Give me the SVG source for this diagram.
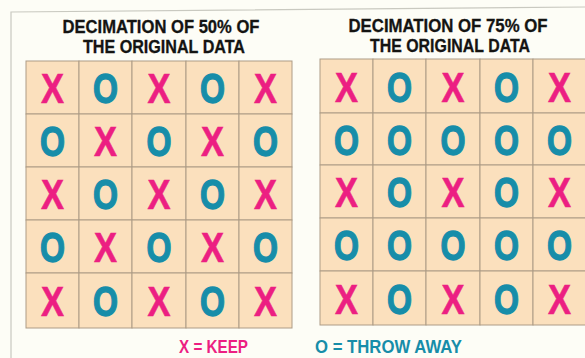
<svg xmlns="http://www.w3.org/2000/svg" width="585" height="358" viewBox="0 0 585 358">
<style>
.cell{fill:#fbe0bd;stroke:#ad9c86;stroke-width:1}
.x{font-family:"Liberation Sans Narrow","Liberation Sans",Arial,sans-serif;font-weight:bold;font-size:43px;fill:#ec1f82;stroke:#ec1f82;stroke-width:0.6;text-anchor:middle}
.o{font-family:"Liberation Sans Narrow","Liberation Sans",Arial,sans-serif;font-weight:bold;font-size:43px;fill:#178da9;stroke:#178da9;stroke-width:1.4;text-anchor:middle}
.title{font-family:"Liberation Sans Narrow","Liberation Sans",Arial,sans-serif;font-weight:bold;font-size:18px;fill:#141412;stroke:#141412;stroke-width:0.3;text-anchor:middle}
.leg{font-family:"Liberation Sans Narrow","Liberation Sans",Arial,sans-serif;font-weight:bold;font-size:19px;text-anchor:middle}
</style>
<rect width="585" height="358" fill="#fdfdf6"/>
<path d="M11,358 L11,12 L585,7" fill="none" stroke="#c9c9c0" stroke-width="1.2"/>
<g id="title-left">
<text class="title" x="161" y="33" textLength="197" lengthAdjust="spacingAndGlyphs">DECIMATION OF 50% OF</text>
<text class="title" x="164" y="53" textLength="162" lengthAdjust="spacingAndGlyphs">THE ORIGINAL DATA</text>
</g>
<g id="title-right">
<text class="title" x="448" y="32" textLength="199" lengthAdjust="spacingAndGlyphs">DECIMATION OF 75% OF</text>
<text class="title" x="450" y="52" textLength="160" lengthAdjust="spacingAndGlyphs">THE ORIGINAL DATA</text>
</g>
<g id="grid-left">
<rect class="cell" x="26" y="61" width="53" height="53"/><rect class="cell" x="79" y="61" width="53" height="53"/><rect class="cell" x="132" y="61" width="54" height="53"/><rect class="cell" x="186" y="61" width="53" height="53"/><rect class="cell" x="239" y="61" width="53" height="53"/>
<rect class="cell" x="26" y="114" width="53" height="53"/><rect class="cell" x="79" y="114" width="53" height="53"/><rect class="cell" x="132" y="114" width="54" height="53"/><rect class="cell" x="186" y="114" width="53" height="53"/><rect class="cell" x="239" y="114" width="53" height="53"/>
<rect class="cell" x="26" y="167" width="53" height="53"/><rect class="cell" x="79" y="167" width="53" height="53"/><rect class="cell" x="132" y="167" width="54" height="53"/><rect class="cell" x="186" y="167" width="53" height="53"/><rect class="cell" x="239" y="167" width="53" height="53"/>
<rect class="cell" x="26" y="220" width="53" height="53"/><rect class="cell" x="79" y="220" width="53" height="53"/><rect class="cell" x="132" y="220" width="54" height="53"/><rect class="cell" x="186" y="220" width="53" height="53"/><rect class="cell" x="239" y="220" width="53" height="53"/>
<rect class="cell" x="26" y="273" width="53" height="55"/><rect class="cell" x="79" y="273" width="53" height="55"/><rect class="cell" x="132" y="273" width="54" height="55"/><rect class="cell" x="186" y="273" width="53" height="55"/><rect class="cell" x="239" y="273" width="53" height="55"/>
<text class="x" x="52.5" y="103" textLength="23" lengthAdjust="spacingAndGlyphs">X</text><text class="o" x="105.5" y="103" textLength="25" lengthAdjust="spacingAndGlyphs">O</text><text class="x" x="159" y="103" textLength="23" lengthAdjust="spacingAndGlyphs">X</text><text class="o" x="212.5" y="103" textLength="25" lengthAdjust="spacingAndGlyphs">O</text><text class="x" x="265.5" y="103" textLength="23" lengthAdjust="spacingAndGlyphs">X</text>
<text class="o" x="52.5" y="156" textLength="25" lengthAdjust="spacingAndGlyphs">O</text><text class="x" x="105.5" y="156" textLength="23" lengthAdjust="spacingAndGlyphs">X</text><text class="o" x="159" y="156" textLength="25" lengthAdjust="spacingAndGlyphs">O</text><text class="x" x="212.5" y="156" textLength="23" lengthAdjust="spacingAndGlyphs">X</text><text class="o" x="265.5" y="156" textLength="25" lengthAdjust="spacingAndGlyphs">O</text>
<text class="x" x="52.5" y="209" textLength="23" lengthAdjust="spacingAndGlyphs">X</text><text class="o" x="105.5" y="209" textLength="25" lengthAdjust="spacingAndGlyphs">O</text><text class="x" x="159" y="209" textLength="23" lengthAdjust="spacingAndGlyphs">X</text><text class="o" x="212.5" y="209" textLength="25" lengthAdjust="spacingAndGlyphs">O</text><text class="x" x="265.5" y="209" textLength="23" lengthAdjust="spacingAndGlyphs">X</text>
<text class="o" x="52.5" y="262" textLength="25" lengthAdjust="spacingAndGlyphs">O</text><text class="x" x="105.5" y="262" textLength="23" lengthAdjust="spacingAndGlyphs">X</text><text class="o" x="159" y="262" textLength="25" lengthAdjust="spacingAndGlyphs">O</text><text class="x" x="212.5" y="262" textLength="23" lengthAdjust="spacingAndGlyphs">X</text><text class="o" x="265.5" y="262" textLength="25" lengthAdjust="spacingAndGlyphs">O</text>
<text class="x" x="52.5" y="316" textLength="23" lengthAdjust="spacingAndGlyphs">X</text><text class="o" x="105.5" y="316" textLength="25" lengthAdjust="spacingAndGlyphs">O</text><text class="x" x="159" y="316" textLength="23" lengthAdjust="spacingAndGlyphs">X</text><text class="o" x="212.5" y="316" textLength="25" lengthAdjust="spacingAndGlyphs">O</text><text class="x" x="265.5" y="316" textLength="23" lengthAdjust="spacingAndGlyphs">X</text>
</g>
<g id="grid-right">
<rect class="cell" x="320" y="59" width="53" height="54"/><rect class="cell" x="373" y="59" width="53" height="54"/><rect class="cell" x="426" y="59" width="54" height="54"/><rect class="cell" x="480" y="59" width="53" height="54"/><rect class="cell" x="533" y="59" width="53" height="54"/>
<rect class="cell" x="320" y="113" width="53" height="52"/><rect class="cell" x="373" y="113" width="53" height="52"/><rect class="cell" x="426" y="113" width="54" height="52"/><rect class="cell" x="480" y="113" width="53" height="52"/><rect class="cell" x="533" y="113" width="53" height="52"/>
<rect class="cell" x="320" y="165" width="53" height="53"/><rect class="cell" x="373" y="165" width="53" height="53"/><rect class="cell" x="426" y="165" width="54" height="53"/><rect class="cell" x="480" y="165" width="53" height="53"/><rect class="cell" x="533" y="165" width="53" height="53"/>
<rect class="cell" x="320" y="218" width="53" height="53"/><rect class="cell" x="373" y="218" width="53" height="53"/><rect class="cell" x="426" y="218" width="54" height="53"/><rect class="cell" x="480" y="218" width="53" height="53"/><rect class="cell" x="533" y="218" width="53" height="53"/>
<rect class="cell" x="320" y="271" width="53" height="54"/><rect class="cell" x="373" y="271" width="53" height="54"/><rect class="cell" x="426" y="271" width="54" height="54"/><rect class="cell" x="480" y="271" width="53" height="54"/><rect class="cell" x="533" y="271" width="53" height="54"/>
<text class="x" x="346.5" y="101.5" textLength="23" lengthAdjust="spacingAndGlyphs">X</text><text class="o" x="399.5" y="101.5" textLength="25" lengthAdjust="spacingAndGlyphs">O</text><text class="x" x="453" y="101.5" textLength="23" lengthAdjust="spacingAndGlyphs">X</text><text class="o" x="506.5" y="101.5" textLength="25" lengthAdjust="spacingAndGlyphs">O</text><text class="x" x="559.5" y="101.5" textLength="23" lengthAdjust="spacingAndGlyphs">X</text>
<text class="o" x="346.5" y="154.5" textLength="25" lengthAdjust="spacingAndGlyphs">O</text><text class="o" x="399.5" y="154.5" textLength="25" lengthAdjust="spacingAndGlyphs">O</text><text class="o" x="453" y="154.5" textLength="25" lengthAdjust="spacingAndGlyphs">O</text><text class="o" x="506.5" y="154.5" textLength="25" lengthAdjust="spacingAndGlyphs">O</text><text class="o" x="559.5" y="154.5" textLength="25" lengthAdjust="spacingAndGlyphs">O</text>
<text class="x" x="346.5" y="207" textLength="23" lengthAdjust="spacingAndGlyphs">X</text><text class="o" x="399.5" y="207" textLength="25" lengthAdjust="spacingAndGlyphs">O</text><text class="x" x="453" y="207" textLength="23" lengthAdjust="spacingAndGlyphs">X</text><text class="o" x="506.5" y="207" textLength="25" lengthAdjust="spacingAndGlyphs">O</text><text class="x" x="559.5" y="207" textLength="23" lengthAdjust="spacingAndGlyphs">X</text>
<text class="o" x="346.5" y="260" textLength="25" lengthAdjust="spacingAndGlyphs">O</text><text class="o" x="399.5" y="260" textLength="25" lengthAdjust="spacingAndGlyphs">O</text><text class="o" x="453" y="260" textLength="25" lengthAdjust="spacingAndGlyphs">O</text><text class="o" x="506.5" y="260" textLength="25" lengthAdjust="spacingAndGlyphs">O</text><text class="o" x="559.5" y="260" textLength="25" lengthAdjust="spacingAndGlyphs">O</text>
<text class="x" x="346.5" y="313.5" textLength="23" lengthAdjust="spacingAndGlyphs">X</text><text class="o" x="399.5" y="313.5" textLength="25" lengthAdjust="spacingAndGlyphs">O</text><text class="x" x="453" y="313.5" textLength="23" lengthAdjust="spacingAndGlyphs">X</text><text class="o" x="506.5" y="313.5" textLength="25" lengthAdjust="spacingAndGlyphs">O</text><text class="x" x="559.5" y="313.5" textLength="23" lengthAdjust="spacingAndGlyphs">X</text>
</g>
<g id="legend">
<text class="leg" x="213.5" y="353" fill="#ec1f82" textLength="69" lengthAdjust="spacingAndGlyphs">X = KEEP</text>
<text class="leg" x="388.5" y="353" fill="#178da9" textLength="147" lengthAdjust="spacingAndGlyphs">O = THROW AWAY</text>
</g>
</svg>
